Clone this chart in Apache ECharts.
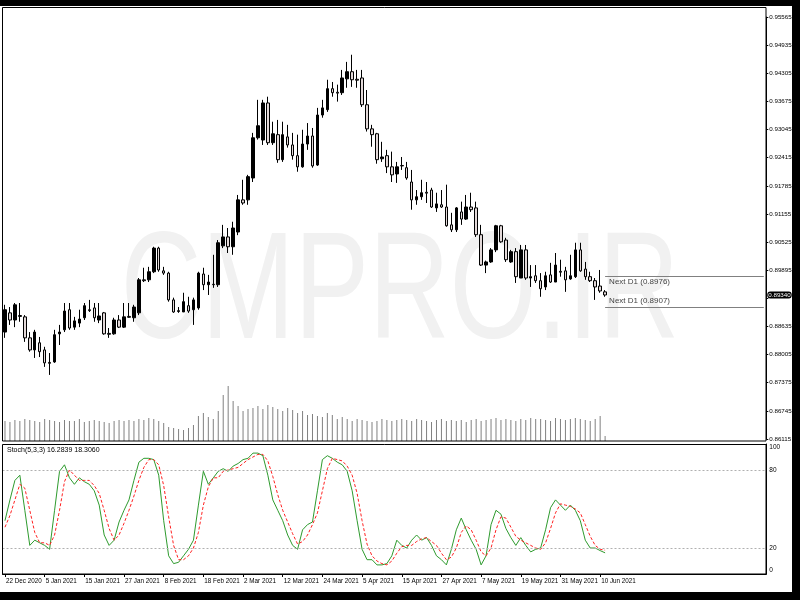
<!DOCTYPE html>
<html><head><meta charset="utf-8">
<script src="https://cdn.jsdelivr.net/npm/echarts/dist/echarts.min.js"></script>
<style>html,body{margin:0;padding:0;background:#000}#c{width:800px;height:600px}</style>
</head><body><div id="c"></div>
<script>
const dates = [
'22 Dec 2020','23 Dec 2020','24 Dec 2020','28 Dec 2020','29 Dec 2020','30 Dec 2020','31 Dec 2020',
'4 Jan 2021','5 Jan 2021','6 Jan 2021','7 Jan 2021','8 Jan 2021','11 Jan 2021','12 Jan 2021','13 Jan 2021','14 Jan 2021','15 Jan 2021','18 Jan 2021','19 Jan 2021','20 Jan 2021','21 Jan 2021','22 Jan 2021','25 Jan 2021','26 Jan 2021','27 Jan 2021','28 Jan 2021','29 Jan 2021',
'1 Feb 2021','2 Feb 2021','3 Feb 2021','4 Feb 2021','5 Feb 2021','8 Feb 2021','9 Feb 2021','10 Feb 2021','11 Feb 2021','12 Feb 2021','15 Feb 2021','16 Feb 2021','17 Feb 2021','18 Feb 2021','19 Feb 2021','22 Feb 2021','23 Feb 2021','24 Feb 2021','25 Feb 2021','26 Feb 2021',
'1 Mar 2021','2 Mar 2021','3 Mar 2021','4 Mar 2021','5 Mar 2021','8 Mar 2021','9 Mar 2021','10 Mar 2021','11 Mar 2021','12 Mar 2021','15 Mar 2021','16 Mar 2021','17 Mar 2021','18 Mar 2021','19 Mar 2021','22 Mar 2021','23 Mar 2021','24 Mar 2021','25 Mar 2021','26 Mar 2021','29 Mar 2021','30 Mar 2021','31 Mar 2021',
'1 Apr 2021','2 Apr 2021','5 Apr 2021','6 Apr 2021','7 Apr 2021','8 Apr 2021','9 Apr 2021','12 Apr 2021','13 Apr 2021','14 Apr 2021','15 Apr 2021','16 Apr 2021','19 Apr 2021','20 Apr 2021','21 Apr 2021','22 Apr 2021','23 Apr 2021','26 Apr 2021','27 Apr 2021','28 Apr 2021','29 Apr 2021','30 Apr 2021',
'3 May 2021','4 May 2021','5 May 2021','6 May 2021','7 May 2021','10 May 2021','11 May 2021','12 May 2021','13 May 2021','14 May 2021','17 May 2021','18 May 2021','19 May 2021','20 May 2021','21 May 2021','24 May 2021','25 May 2021','26 May 2021','27 May 2021','28 May 2021','31 May 2021',
'1 Jun 2021','2 Jun 2021','3 Jun 2021','4 Jun 2021','7 Jun 2021','8 Jun 2021','9 Jun 2021','10 Jun 2021','11 Jun 2021'
];
// [open, close, low, high]
const ohlc = [
[0.8851,0.8901,0.8838,0.8912],[0.8894,0.8878,0.8867,0.8907],[0.8878,0.8912,0.8862,0.8916],[0.8888,0.8886,0.8874,0.8916],
[0.8885,0.8838,0.8829,0.8889],[0.8838,0.8811,0.8807,0.8851],[0.8811,0.8851,0.8793,0.8856],[0.8827,0.8807,0.8795,0.8840],
[0.8811,0.8782,0.8773,0.8818],[0.8783,0.8781,0.8755,0.8804],[0.8784,0.8845,0.8782,0.8856],[0.8847,0.8851,0.8822,0.8867],
[0.8856,0.8898,0.8851,0.8916],[0.8901,0.8860,0.8856,0.8916],[0.8862,0.8876,0.8856,0.8885],[0.8871,0.8880,0.8862,0.8901],
[0.8883,0.8910,0.8878,0.8916],[0.8901,0.8899,0.8896,0.8923],[0.8905,0.8883,0.8874,0.8916],[0.8878,0.8887,0.8871,0.8916],
[0.8894,0.8847,0.8845,0.8896],[0.8848,0.8846,0.8838,0.8860],[0.8847,0.8878,0.8845,0.8883],[0.8878,0.8862,0.8860,0.8889],
[0.8862,0.8885,0.8860,0.8916],[0.8886,0.8884,0.8883,0.8916],[0.8883,0.8907,0.8874,0.8912],[0.8894,0.8968,0.8889,0.8972],
[0.8968,0.8966,0.8963,0.8995],[0.8968,0.8986,0.8963,0.8997],[0.8986,0.9039,0.8983,0.9042],[0.9039,0.8990,0.8986,0.9042],
[0.8988,0.8983,0.8979,0.8997],[0.8983,0.8923,0.8919,0.8986],[0.8923,0.8896,0.8894,0.8928],[0.8899,0.8897,0.8894,0.8907],
[0.8896,0.8919,0.8896,0.8939],[0.8910,0.8898,0.8894,0.8930],[0.8901,0.8923,0.8867,0.8928],[0.8905,0.8983,0.8901,0.8986],
[0.8981,0.8957,0.8945,0.8995],[0.8957,0.8963,0.8934,0.8979],[0.8958,0.8957,0.8950,0.9024],[0.8957,0.9051,0.8952,0.9057],
[0.9044,0.9064,0.9039,0.9091],[0.9064,0.9042,0.9028,0.9084],[0.9042,0.9084,0.9024,0.9098],[0.9075,0.9147,0.9068,0.9158],
[0.9147,0.9140,0.9136,0.9192],[0.9147,0.9199,0.9136,0.9203],[0.9196,0.9286,0.9187,0.9297],[0.9286,0.9313,0.9282,0.9371],
[0.9281,0.9364,0.9270,0.9371],[0.9364,0.9275,0.9270,0.9378],[0.9275,0.9295,0.9270,0.9322],[0.9293,0.9237,0.9230,0.9326],
[0.9237,0.9293,0.9232,0.9322],[0.9288,0.9270,0.9264,0.9315],[0.9270,0.9246,0.9237,0.9297],[0.9246,0.9221,0.9210,0.9293],
[0.9221,0.9272,0.9219,0.9304],[0.9272,0.9290,0.9259,0.9319],[0.9290,0.9223,0.9219,0.9308],[0.9225,0.9337,0.9223,0.9353],
[0.9337,0.9353,0.9331,0.9371],[0.9349,0.9396,0.9344,0.9416],[0.9396,0.9387,0.9378,0.9411],[0.9388,0.9386,0.9367,0.9405],
[0.9387,0.9420,0.9382,0.9438],[0.9418,0.9434,0.9398,0.9456],[0.9434,0.9416,0.9400,0.9472],[0.9417,0.9415,0.9398,0.9438],
[0.9420,0.9360,0.9355,0.9438],[0.9360,0.9306,0.9300,0.9393],[0.9306,0.9293,0.9266,0.9315],[0.9295,0.9237,0.9228,0.9297],
[0.9239,0.9243,0.9232,0.9277],[0.9246,0.9221,0.9207,0.9259],[0.9221,0.9203,0.9187,0.9255],[0.9205,0.9221,0.9185,0.9232],
[0.9224,0.9223,0.9214,0.9243],[0.9219,0.9196,0.9192,0.9232],[0.9187,0.9147,0.9125,0.9214],[0.9147,0.9154,0.9136,0.9169],
[0.9154,0.9163,0.9147,0.9192],[0.9164,0.9162,0.9140,0.9187],[0.9169,0.9131,0.9129,0.9174],[0.9129,0.9138,0.9120,0.9163],
[0.9136,0.9131,0.9129,0.9169],[0.9131,0.9089,0.9087,0.9181],[0.9091,0.9080,0.9075,0.9118],[0.9080,0.9129,0.9075,0.9131],
[0.9120,0.9104,0.9091,0.9143],[0.9104,0.9131,0.9102,0.9158],[0.9131,0.9125,0.9120,0.9163],[0.9129,0.9069,0.9064,0.9143],
[0.9069,0.9001,0.8999,0.9091],[0.9001,0.9008,0.8983,0.9011],[0.9008,0.9035,0.9006,0.9039],[0.9035,0.9089,0.9030,0.9091],
[0.9089,0.9053,0.9051,0.9091],[0.9057,0.9013,0.9008,0.9062],[0.9008,0.9031,0.9006,0.9035],[0.9031,0.8975,0.8961,0.9039],
[0.8972,0.9035,0.8972,0.9046],[0.9035,0.8972,0.8968,0.9046],[0.8972,0.8975,0.8952,0.9001],[0.8977,0.8966,0.8961,0.9001],
[0.8966,0.8948,0.8930,0.8983],[0.8952,0.8977,0.8945,0.8986],[0.8979,0.8963,0.8961,0.9006],[0.8963,0.9001,0.8963,0.9028],
[0.8987,0.8985,0.8975,0.9013],[0.8988,0.8968,0.8941,0.8997],[0.8970,0.8977,0.8968,0.9024],[0.8975,0.9035,0.8972,0.9051],
[0.9035,0.8988,0.8986,0.9051],[0.8992,0.8975,0.8968,0.9008],[0.8975,0.8966,0.8963,0.8986],[0.8966,0.8952,0.8923,0.8972],
[0.8954,0.8943,0.8939,0.8990],[0.8941,0.8934,0.8930,0.8945]
];
const volumes = [
20,19,21,20,22,21,20,19,22,21,20,
19,21,20,20,22,19,20,21,20,19,
18,20,21,20,21,20,22,21,23,22,
20,18,14,13,12,11,13,16,
25,28,24,22,30,46,55,40,35,30,32,33,
35,32,36,34,32,30,33,31,28,30,
26,27,25,24,28,26,22,24,22,20,
22,21,20,19,20,22,21,20,21,22,
21,20,22,21,20,19,21,22,20,21,
20,21,19,21,22,20,21,22,23,21,
22,21,20,22,21,23,22,22,21,20,
23,22,21,22,23,22,21,20,22,25,5
];
const stochMain = [
41,57,72,76,49,22,26,24,22,19,
49,79,84,74,69,74,71,69,64,53,
30,22,26,40,49,57,72,86,89,89,
88,76,41,14,8,9,14,19,26,53,
79,69,74,79,81,79,83,85,88,89,
93,93,91,76,57,49,41,30,22,19,
34,38,40,64,88,91,89,86,84,79,
64,41,19,11,11,7,7,8,14,26,
22,20,26,30,26,28,22,14,11,7,
19,34,43,34,26,19,7,14,38,49,
46,35,28,22,28,22,17,19,20,34,
51,57,53,49,53,49,41,26,20,20,
18,16.2839];
const stochSignal = [
36,45,57,69,66,49,32,24,24,22,
30,49,71,80,76,72,72,72,68,62,
49,35,26,30,39,49,60,72,82,88,
88,84,68,44,22,11,11,14,20,32,
53,67,74,74,79,80,81,82,85,88,
90,92,92,87,75,61,49,40,31,23,
25,30,38,47,64,81,89,88,87,83,
76,62,41,23,14,10,8,7,10,16,
21,22,22,25,27,28,25,22,16,11,
13,20,32,37,34,26,17,14,20,34,
44,43,36,29,26,24,22,20,19,24,
35,47,54,53,52,50,47,38,29,22,
19,18.3060];
const nextD1 = [0.8976, 0.8907];
const lastPrice = 0.8934;
const stochLabel = 'Stoch(5,3,3) 16.2839 18.3060';

const EMPTY = 32;
const cats = dates.concat(new Array(EMPTY).fill(''));
const lastIdx = dates.length - 1;
const FONT = 'Liberation Sans';
const labelEvery = (i) => i % 8 === 0 && i <= lastIdx;

const chart = echarts.init(document.getElementById('c'), null, {renderer: 'canvas'});
const L = 2.5, W = 763.8;
chart.setOption({
  animation: false,
  backgroundColor: '#ffffff',
  tooltip: {show: false},
  axisPointer: {triggerTooltip: false},
  grid: [
    {left: L, width: W, top: 17, height: 422, outerBoundsMode: 'none'},
    {left: L, width: W, top: 341, height: 100, outerBoundsMode: 'none'},
    {left: L, width: W, top: 444, height: 130, outerBoundsMode: 'none'}
  ],
  xAxis: [
    {type: 'category', gridIndex: 0, data: cats, boundaryGap: true, axisLine: {show: false}, axisTick: {show: false}, axisLabel: {show: false}, splitLine: {show: false}},
    {type: 'category', gridIndex: 1, data: cats, boundaryGap: true, axisLine: {show: false}, axisTick: {show: false}, axisLabel: {show: false}, splitLine: {show: false}},
    {type: 'category', gridIndex: 2, data: cats, boundaryGap: true,
      axisLine: {show: true, lineStyle: {color: '#000', width: 1}},
      axisTick: {show: true, alignWithLabel: true, interval: labelEvery, length: 3, lineStyle: {color: '#000'}},
      axisLabel: {show: true, interval: labelEvery, align: 'left', margin: 4, padding: [0,0,0,1], fontSize: 6.3, fontFamily: FONT, color: '#000'},
      splitLine: {show: false}}
  ],
  yAxis: [
    {type: 'value', gridIndex: 0, position: 'right', min: 0.86115, max: 0.95565, interval: 0.0063, scale: true,
      axisLine: {show: true, lineStyle: {color: '#000'}},
      axisTick: {show: true, length: 2, lineStyle: {color: '#000'}},
      axisLabel: {show: true, margin: 3, fontSize: 6.2, fontFamily: FONT, color: '#000',
        formatter: v => Math.abs(v - lastPrice) < 0.0012 ? '' : v.toFixed(5)},
      axisPointer: {show: true, value: lastPrice, status: 'show', snap: false, triggerTooltip: false, handle: {show: false},
        lineStyle: {color: 'rgba(0,0,0,0)', width: 0},
        label: {show: true, formatter: () => lastPrice.toFixed(5), backgroundColor: '#000', color: '#fff', padding: [1, 1, 0, 1], fontSize: 6.2, fontFamily: FONT, margin: 1, borderWidth: 0, shadowBlur: 0}},
      splitLine: {show: false}},
    {type: 'value', gridIndex: 1, min: 0, max: 100, show: false, splitLine: {show: false}},
    {type: 'value', gridIndex: 2, position: 'right', min: 0, max: 100, interval: 20,
      axisLine: {show: true, lineStyle: {color: '#000'}},
      axisTick: {show: false},
      axisLabel: {show: true, margin: 3, fontSize: 6.5, fontFamily: FONT, color: '#000',
        verticalAlignMaxLabel: 'top', verticalAlignMinLabel: 'bottom',
        formatter: v => (v === 0 || v === 20 || v === 80 || v === 100) ? String(v) : ''},
      splitLine: {show: false}}
  ],
  graphic: [
    {type: 'text', z: 0, x: 400, y: 296, scaleX: 0.735, silent: true,
      style: {text: 'CMPRO.IR', font: '152px "Liberation Sans"', fill: '#f1f1f1', align: 'center', verticalAlign: 'middle'}},
    {type: 'rect', z: 100, shape: {x: 2.5, y: 7.5, width: 763.5, height: 433.5}, style: {fill: 'none', stroke: '#000', lineWidth: 1}},
    {type: 'rect', z: 100, shape: {x: 2.5, y: 444.5, width: 763.5, height: 129.5}, style: {fill: 'none', stroke: '#000', lineWidth: 1}},
    {type: 'text', z: 100, left: 7, top: 447, style: {text: stochLabel, font: '7px "Liberation Sans"', fill: '#000'}},
    {type: 'rect', z: 200, shape: {x: 0, y: 0, width: 800, height: 6}, style: {fill: '#000'}},
    {type: 'rect', z: 200, shape: {x: 792, y: 0, width: 8, height: 600}, style: {fill: '#000'}},
    {type: 'rect', z: 200, shape: {x: 0, y: 592, width: 800, height: 8}, style: {fill: '#000'}}
  ],
  series: [
    {type: 'candlestick', xAxisIndex: 0, yAxisIndex: 0, data: ohlc, barWidth: 3,
      itemStyle: {color: '#000', color0: '#e3d9d9', borderColor: '#000', borderColor0: '#000', borderWidth: 1},
      markLine: {silent: true, symbol: 'none', animation: false,
        data: [
          [{coord: [lastIdx, nextD1[0]], lineStyle: {color: '#808080', width: 1, type: 'solid'},
            label: {show: true, position: 'insideStartBottom', formatter: 'Next D1 (' + nextD1[0].toFixed(4) + ')', fontSize: 8, fontFamily: FONT, color: '#444', distance: [4, 2]}},
           {coord: [cats.length - 1, nextD1[0]]}],
          [{coord: [lastIdx, nextD1[1]], lineStyle: {color: '#808080', width: 1, type: 'solid'},
            label: {show: true, position: 'insideStartTop', formatter: 'Next D1 (' + nextD1[1].toFixed(4) + ')', fontSize: 8, fontFamily: FONT, color: '#444', distance: [4, 2]}},
           {coord: [cats.length - 1, nextD1[1]]}]
        ]}},
    {type: 'bar', xAxisIndex: 1, yAxisIndex: 1, data: volumes, barWidth: 1, itemStyle: {color: '#808080'}},
    {type: 'line', xAxisIndex: 2, yAxisIndex: 2, data: stochMain, symbol: 'none', lineStyle: {color: '#2e9b2e', width: 1},
      markLine: {silent: true, symbol: 'none', label: {show: false},
        lineStyle: {color: '#b0b0b0', type: [2, 2], width: 1},
        data: [{yAxis: 80}, {yAxis: 20}]}},
    {type: 'line', xAxisIndex: 2, yAxisIndex: 2, data: stochSignal, symbol: 'none', lineStyle: {color: '#ff2020', width: 1, type: [3, 2]}}
  ]
});
</script></body></html>
